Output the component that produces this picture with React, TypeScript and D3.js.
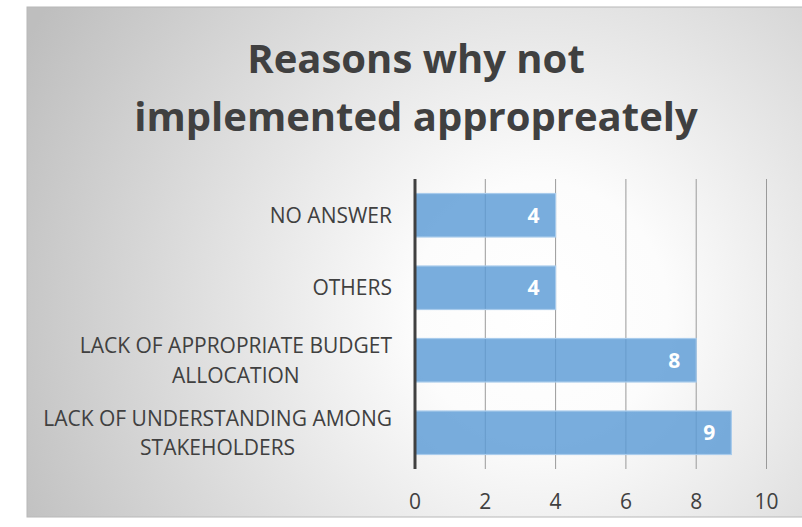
import React, { useEffect, useRef } from 'react';
import * as d3 from 'd3';

// chart data
const categories = [
  'NO ANSWER',
  'OTHERS',
  'LACK OF APPROPRIATE BUDGET ALLOCATION',
  'LACK OF UNDERSTANDING AMONG STAKEHOLDERS',
];
const categoryLines = [
  ['NO ANSWER'],
  ['OTHERS'],
  ['LACK OF APPROPRIATE BUDGET', 'ALLOCATION'],
  ['LACK OF UNDERSTANDING AMONG', 'STAKEHOLDERS'],
];
const values = [4, 4, 8, 9];
const xTicks = [0, 2, 4, 6, 8, 10];
const titleLines = ['Reasons why not', 'implemented appropreately'];

function App() {
  const ref = useRef<SVGSVGElement>(null);

  useEffect(() => {
    const svg = d3.select(ref.current);
    svg.selectAll('*').remove();

    const font = '"Open Sans", sans-serif';
    const textColor = '#404040';

    // background gradient
    const defs = svg.append('defs');
    const grad = defs.append('radialGradient')
      .attr('id', 'bg')
      .attr('gradientUnits', 'userSpaceOnUse')
      .attr('cx', 540).attr('cy', 310).attr('r', 580);
    grad.append('stop').attr('offset', '0').attr('stop-color', '#ffffff');
    grad.append('stop').attr('offset', '0.22').attr('stop-color', '#fcfcfc');
    grad.append('stop').attr('offset', '1').attr('stop-color', '#bebebe');

    svg.append('rect')
      .attr('x', 27).attr('y', 7)
      .attr('width', 780).attr('height', 510)
      .attr('fill', 'url(#bg)')
      .attr('stroke', '#b8b8b8')
      .attr('stroke-width', 1);

    // title
    svg.append('g').selectAll('text')
      .data(titleLines)
      .enter().append('text')
      .attr('x', 416)
      .attr('y', (d, i) => 73 + i * 58)
      .attr('text-anchor', 'middle')
      .attr('font-family', font)
      .attr('font-weight', 'bold')
      .attr('font-size', 40)
      .attr('fill', textColor)
      .text(d => d);

    const top = 179, bottom = 469;

    var x = d3.scaleLinear()
      .domain([0, 10])
      .range([415, 766.5]);

    var y = d3.scaleBand()
      .domain(categories)
      .range([top, bottom])
      .paddingInner(0.4)
      .paddingOuter(0.2);

    // gridlines
    svg.append('g').selectAll('line')
      .data(xTicks.slice(1))
      .enter().append('line')
      .attr('x1', d => x(d)).attr('x2', d => x(d))
      .attr('y1', top).attr('y2', bottom)
      .attr('stroke', '#9a9a9a')
      .attr('stroke-width', 1);

    // bars
    svg.append('g').selectAll('rect')
      .data(values)
      .enter().append('rect')
      .attr('x', x(0))
      .attr('y', (d, i) => y(categories[i]))
      .attr('width', d => x(d) - x(0))
      .attr('height', y.bandwidth())
      .attr('fill', '#5b9bd5')
      .attr('fill-opacity', 0.82)
      .attr('stroke', '#a8cbec')
      .attr('stroke-width', 1.2);

    // value labels
    svg.append('g').selectAll('text')
      .data(values)
      .enter().append('text')
      .attr('x', d => x(d) - 16)
      .attr('y', (d, i) => y(categories[i]) + y.bandwidth() / 2 + 7.5)
      .attr('text-anchor', 'end')
      .attr('font-family', font)
      .attr('font-weight', 'bold')
      .attr('font-size', 21)
      .attr('fill', '#ffffff')
      .text(d => d);

    // y axis line
    svg.append('line')
      .attr('x1', x(0)).attr('x2', x(0))
      .attr('y1', top).attr('y2', bottom)
      .attr('stroke', '#404040')
      .attr('stroke-width', 3);

    // x tick labels
    svg.append('g').selectAll('text')
      .data(xTicks)
      .enter().append('text')
      .attr('x', d => x(d))
      .attr('y', 508.5)
      .attr('text-anchor', 'middle')
      .attr('font-family', font)
      .attr('font-size', 21)
      .attr('fill', textColor)
      .text(d => d);

    // category labels, lines centred on each other, block right aligned
    const lineGap = 29.5;
    categoryLines.forEach((lines, i) => {
      const cy = y(categories[i]) + y.bandwidth() / 2;
      const g = svg.append('g');
      const texts = g.selectAll('text')
        .data(lines)
        .enter().append('text')
        .attr('y', (d, j) => cy + (j - (lines.length - 1) / 2) * lineGap + 7.5)
        .attr('text-anchor', 'middle')
        .attr('font-family', font)
        .attr('font-size', 21)
        .attr('fill', textColor)
        .text(d => d);
      let maxW = 0;
      texts.each(function () {
        maxW = Math.max(maxW, (this as SVGTextElement).getComputedTextLength());
      });
      texts.attr('x', 392 - maxW / 2);
    });
  }, []);

  return (
    <svg ref={ref} width={802} height={527}
      style={{ position: 'absolute', left: 0, top: 0, background: '#ffffff' }} />
  );
}

export default App;
